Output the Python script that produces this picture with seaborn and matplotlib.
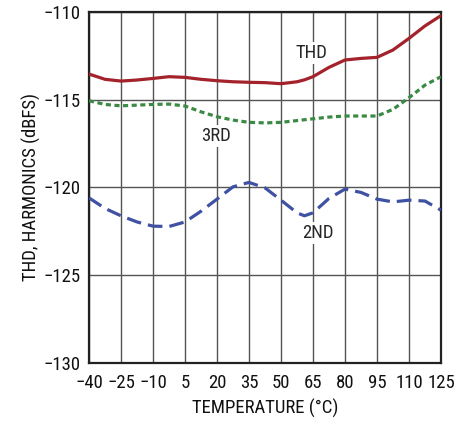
import matplotlib
matplotlib.use("Agg")
import matplotlib.pyplot as plt
import seaborn as sns
import pandas as pd

temps = [-40, -32.5, -25, -17.5, -10, -2.5, 5, 12.5, 20, 27.5, 35, 42.5, 50,
         57.5, 61, 65, 72.5, 80, 87.5, 95, 102.5, 110, 117.5, 125]
thd = [-113.55, -113.85, -113.95, -113.89, -113.8, -113.7, -113.74, -113.85, -113.93,
       -113.99, -114.02, -114.04, -114.1, -113.99, -113.88, -113.7, -113.17, -112.75,
       -112.66, -112.6, -112.18, -111.52, -110.81, -110.22]
third = [-115.07, -115.28, -115.36, -115.32, -115.28, -115.26, -115.37, -115.7, -115.98,
         -116.17, -116.3, -116.33, -116.3, -116.2, -116.15, -116.1, -116.0, -115.94,
         -115.94, -115.94, -115.56, -114.9, -114.18, -113.7]
second = [-120.6, -121.2, -121.62, -121.97, -122.21, -122.23, -121.97, -121.36, -120.67,
          -119.97, -119.72, -120.03, -120.73, -121.45, -121.62, -121.45, -120.63, -120.1,
          -120.29, -120.67, -120.83, -120.73, -120.78, -121.3]
xticks = [-40, -25, -10, 5, 20, 35, 50, 65, 80, 95, 110, 125]
yticks = [-130, -125, -120, -115, -110]

sns.set_theme(style="white")
plt.rcParams['font.family'] = ['Roboto Condensed', 'DejaVu Sans']

df = pd.DataFrame({"T": temps, "THD": thd, "3RD": third, "2ND": second})

fig = plt.figure(figsize=(4.75, 4.25), dpi=100)
ax = fig.add_axes([0.1874, 0.1459, 0.9284 - 0.1874, 0.9725 - 0.1459])

kw = dict(lw=2.3, zorder=3, solid_joinstyle="round", dash_joinstyle="round")
sns.lineplot(data=df, x="T", y="THD", ax=ax, color="#A3222B", **kw)
sns.lineplot(data=df, x="T", y="3RD", ax=ax, color="#3B8A43", **kw)
ax.lines[-1].set_dashes((1.6, 1.1))
sns.lineplot(data=df, x="T", y="2ND", ax=ax, color="#3F51A3", **kw)
ax.lines[-1].set_dashes((4.6, 2.2))

ax.set_xlim(-40, 125)
ax.set_ylim(-130, -110)
ax.set_xticks(xticks)
ax.set_xticklabels([str(t).replace("-", "\u2212") for t in xticks])
ax.set_yticks(yticks)
ax.set_yticklabels([str(t).replace("-", "\u2212") for t in yticks])
ax.grid(True, color="#555555", lw=1.0, zorder=1)
ax.set_axisbelow(True)
for s in ax.spines.values():
    s.set_color("#222222")
    s.set_linewidth(1.6)
fs = 13.5
ax.tick_params(axis="x", length=0, pad=8, labelsize=fs, colors="#111111")
ax.tick_params(axis="y", length=0, pad=6, labelsize=fs, colors="#111111")
ax.set_xlabel("TEMPERATURE (°C)", fontsize=fs, color="#111111", labelpad=5)
ax.set_ylabel("THD, HARMONICS (dBFS)", fontsize=fs, color="#111111", labelpad=2)

bbox = dict(facecolor="white", edgecolor="none", pad=1.5)
ax.text(64.3, -112.37, "THD", ha="center", va="center", fontsize=fs, bbox=bbox, zorder=4)
ax.text(19.7, -117.08, "3RD", ha="center", va="center", fontsize=fs, bbox=bbox, zorder=4)
ax.text(67.2, -122.6, "2ND", ha="center", va="center", fontsize=fs, bbox=bbox, zorder=4)

fig.savefig("out.png", dpi=100)
